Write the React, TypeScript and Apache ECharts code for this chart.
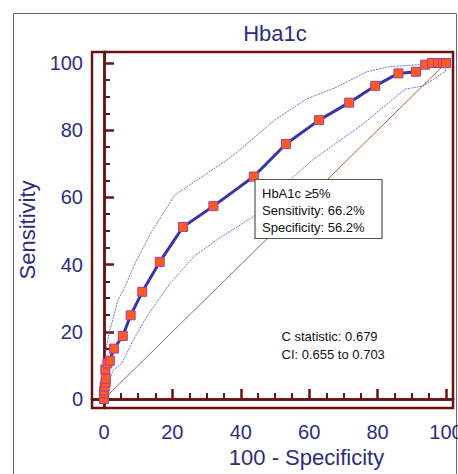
import React, { useEffect, useRef } from "react";
import * as echarts from "echarts";

const rocX = [0, 0, 0.1, 0.2, 0.5, 0.5, 0.4, 1.0, 1.7, 2.9, 5.5, 7.8, 11.2, 16.3, 23.1, 32.0, 43.8, 53.2, 62.9, 71.7, 79.3, 86.1, 91.2, 93.9, 95.9, 97.7, 99.1, 100];
const rocY = [0, 1.7, 2.5, 3.7, 4.9, 6.0, 8.8, 10.6, 11.4, 15.0, 18.75, 24.9, 31.9, 40.8, 51.2, 57.4, 66.2, 75.9, 83.0, 88.2, 93.2, 96.9, 97.4, 99.5, 100, 100, 100, 100];

const upperX = [0, 0.3, 0.5, 0.8, 1.75, 4.1, 6.0, 9.1, 13.9, 20.7, 35.9, 39.8, 49.7, 59.2, 68.0, 76.8, 83.6, 93.3, 100];
const upperY = [0, 5.0, 14.0, 16.0, 20.5, 29.5, 33.0, 40.4, 49.8, 60.7, 71.1, 74.2, 82.8, 89.3, 92.8, 97.4, 98.9, 99.6, 100];

const lowerX = [0, 0.8, 1.75, 2.7, 5.2, 8.6, 12.5, 19.3, 26.5, 32.9, 43.7, 54.9, 61.2, 75.3, 88.0, 93.4, 99.8, 100];
const lowerY = [0, 4.6, 6.2, 8.6, 10.6, 17.6, 24.5, 34.4, 42.6, 47.3, 54.3, 65.7, 71.3, 81.5, 92.2, 93.2, 97.5, 100];

const diagX = [0, 100];
const diagY = [0, 100];

const majorTicks = [0, 20, 40, 60, 80, 100];
const minorTicks = [5, 10, 15, 25, 30, 35, 45, 50, 55, 65, 70, 75, 85, 90, 95];

const titleText = "Hba1c";
const xName = "100 - Specificity";
const yName = "Sensitivity";
const boxLines = ["HbA1c \u22655%", "Sensitivity: 66.2%", "Specificity: 56.2%"];
const statLines = ["C statistic: 0.679", "CI: 0.655 to 0.703"];

const navy = "#2d2d80";
const frame = "#6b1212";
const font = "'Liberation Sans', Arial, sans-serif";

const zip = (a: number[], b: number[]) => a.map((v, i) => [v, b[i]]);

export default function App() {
  const ref = useRef<HTMLDivElement>(null);
  useEffect(() => {
    if (!ref.current) return;
    const chart = echarts.init(ref.current, undefined, { renderer: "svg" });
    const grid = { left: 92, top: 52, width: 361, height: 356 };
    const xMin = -3.5, xMax = 102.05;
    const yMin = -2.68, yMax = 103.27;
    const baseX = {
      type: "value" as const,
      min: xMin,
      max: xMax,
      position: "bottom" as const,
      splitLine: { show: false },
      axisLine: { show: true, lineStyle: { color: frame, width: 2.5 } },
    };
    const baseY = {
      type: "value" as const,
      min: yMin,
      max: yMax,
      position: "left" as const,
      splitLine: { show: false },
      axisLine: { show: true, lineStyle: { color: frame, width: 2.5 } },
    };
    chart.setOption({
      animation: false,
      backgroundColor: "#fff",
      grid: {
        ...grid,
        show: true,
        borderColor: frame,
        borderWidth: 2.5,
        backgroundColor: "transparent",
        containLabel: false,
        outerBoundsMode: "none",
      },
      xAxis: [
        {
          ...baseX,
          name: xName,
          nameLocation: "middle",
          nameGap: 38,
          nameTextStyle: { color: navy, fontSize: 22, fontFamily: font, padding: [0, 0, 0, 68] },
          axisTick: { show: true, inside: true, length: 10, customValues: majorTicks, lineStyle: { color: frame, width: 2.5 } },
          axisLabel: { show: true, customValues: majorTicks, color: navy, fontSize: 20, fontFamily: font, margin: 14, hideOverlap: false },
        },
        {
          ...baseX,
          axisTick: { show: true, inside: true, length: 6, customValues: minorTicks, lineStyle: { color: frame, width: 2 } },
          axisLabel: { show: false },
        },
      ],
      yAxis: [
        {
          ...baseY,
          name: yName,
          nameLocation: "middle",
          nameGap: 48,
          nameRotate: 90,
          nameTextStyle: { color: navy, fontSize: 22, fontFamily: font },
          axisTick: { show: true, inside: true, length: 10, customValues: majorTicks, lineStyle: { color: frame, width: 2.5 } },
          axisLabel: { show: true, customValues: majorTicks, color: navy, fontSize: 20, fontFamily: font, margin: 9 },
        },
        {
          ...baseY,
          axisTick: { show: true, inside: true, length: 6, customValues: minorTicks, lineStyle: { color: frame, width: 2 } },
          axisLabel: { show: false },
        },
      ],
      series: [
        {
          type: "line",
          data: zip(diagX, diagY),
          symbol: "none",
          lineStyle: { color: "#b0603a", width: 1 },
          z: 1,
        },
        {
          type: "line",
          data: zip(upperX, upperY),
          symbol: "none",
          lineStyle: { color: "#6060d0", width: 0.9, type: [2, 1] },
          z: 2,
        },
        {
          type: "line",
          data: zip(lowerX, lowerY),
          symbol: "none",
          lineStyle: { color: "#6060d0", width: 0.9, type: [2, 1] },
          z: 2,
        },
        {
          type: "line",
          data: zip(rocX, rocY),
          symbol: "rect",
          symbolSize: 9,
          itemStyle: { color: "#ff5a1f", borderColor: "#a8409a", borderWidth: 1 },
          lineStyle: { color: "#3636a8", width: 3 },
          z: 3,
        },
      ],
      graphic: [
        {
          type: "rect",
          shape: { x: 13.5, y: 13.5, width: 443, height: 470 },
          style: { fill: "none", stroke: "#666", lineWidth: 1 },
          silent: true,
          z: -1,
        },
        {
          type: "text",
          x: 275,
          y: 33,
          style: { text: titleText, fill: navy, font: `22px ${font}`, align: "center", verticalAlign: "middle" },
        },
        {
          type: "rect",
          shape: { x: 255, y: 179.5, width: 127, height: 59 },
          style: { fill: "#fff", stroke: "#555", lineWidth: 1.2 },
          z: 10,
        },
        ...boxLines.map((t, i) => ({
          type: "text",
          x: 262,
          y: 193 + i * 17,
          z: 11,
          style: { text: t, fill: "#111", font: `13px ${font}`, align: "left", verticalAlign: "middle" },
        })),
        ...statLines.map((t, i) => ({
          type: "text",
          x: 281.5,
          y: 336 + i * 18.5,
          z: 11,
          style: { text: t, fill: "#111", font: `13px ${font}`, align: "left", verticalAlign: "middle" },
        })),
      ],
    });
    return () => chart.dispose();
  }, []);
  return <div ref={ref} style={{ width: 458, height: 474, position: "absolute", left: 0, top: 0 }} />;
}
